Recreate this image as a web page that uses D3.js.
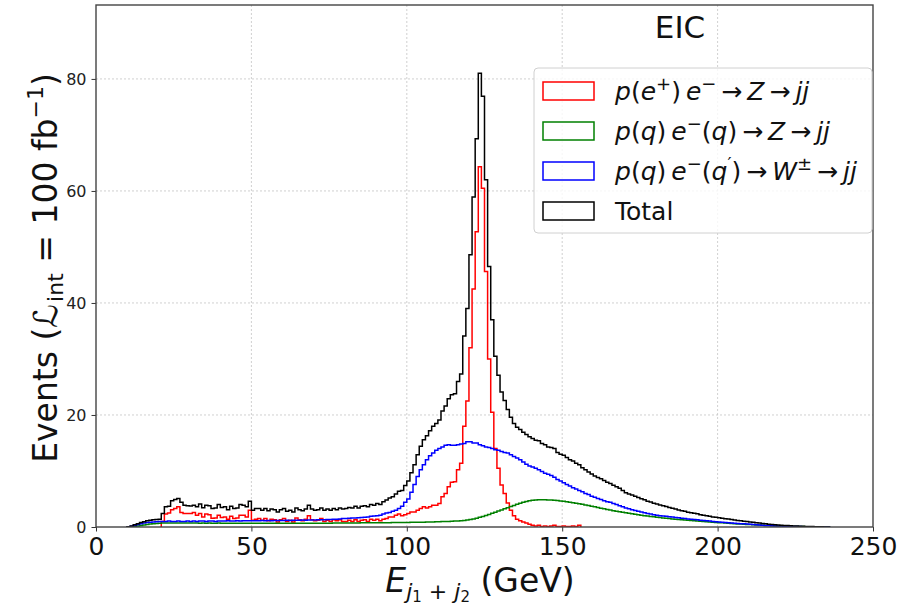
<!DOCTYPE html>
<html>
<head>
<meta charset="utf-8">
<script src="https://cdn.jsdelivr.net/npm/d3@7"></script>
<style>
  body { margin: 0; background: #fff; }
  svg { display: block; font-family: "DejaVu Sans", sans-serif; }
</style>
</head>
<body>
<svg id="chart" width="917" height="609"></svg>
<script>
// histogram binning (GeV)
var binStart = 10;
var binWidth = 1;

var xTicks = [0, 50, 100, 150, 200, 250];
var yTicks = [0, 20, 40, 60, 80];

// p(e+) e- -> Z -> jj   (bins from 10 GeV)
var zPhoton = [
  0, 0, 0, 0, 0, 0, 0, 0, 0, 0,
  0, 1.0, 2.3, 2.5, 3.1, 3.3, 3.6, 2.6, 2.4, 2.4,
  2.4, 2.6, 2.1, 2.4, 1.8, 2.3, 2.2, 1.55, 1.6, 2.1,
  1.7, 1.8, 1.4, 1.9, 1.5, 1.6, 2.1, 2.1, 1.8, 3.0,
  1.2, 1.4, 1.5, 1.2, 1.5, 1.1, 1.4, 1.3, 0.9, 1.3,
  1.5, 1.0, 1.2, 0.9, 1.6, 1.3, 1.1, 1.4, 2.0, 1.3,
  1.1, 1.2, 1.5, 1.0, 1.2, 1.0, 1.3, 1.1, 1.3, 1.0,
  1.0, 1.2, 1.0, 1.3, 1.0, 1.2, 1.3, 1.0, 1.4, 1.2,
  1.4, 1.1, 1.4, 1.5, 1.8, 1.8, 2.1, 2.3, 2.0, 2.2,
  2.4, 2.7, 2.7, 3.0, 3.3, 3.6, 3.4, 3.6, 3.9, 3.9,
  4.2, 5.4, 6.0, 7.2, 8.0, 8.1, 10.2, 11.4, 18.0, 22.5,
  32.0, 42.5, 52.7, 64.3, 60.5, 45.6, 30.0, 20.5, 14.0, 10.5,
  7.5, 6.0, 4.3, 3.0, 2.0, 1.4, 1.1, 0.9, 0.7, 0.5,
  0.3, 0.2, 0.3, 0.1, 0.2, 0.1, 0.2, 0.3, 0.1, 0.1,
  0.2, 0.1, 0.1, 0.2, 0.1, 0.3
];

// p(q) e-(q) -> Z -> jj
var zQuark = [
  0.02, 0.05, 0.1, 0.18, 0.27, 0.36, 0.45, 0.52, 0.58, 0.63,
  0.67, 0.7, 0.7, 0.72, 0.7, 0.72, 0.7, 0.7, 0.72, 0.7,
  0.7, 0.7, 0.7, 0.68, 0.7, 0.68, 0.7, 0.68, 0.68, 0.7,
  0.68, 0.66, 0.68, 0.66, 0.68, 0.66, 0.66, 0.68, 0.66, 0.66,
  0.66, 0.65, 0.66, 0.65, 0.65, 0.66, 0.65, 0.65, 0.66, 0.65,
  0.65, 0.66, 0.65, 0.66, 0.66, 0.66, 0.67, 0.66, 0.67, 0.67,
  0.67, 0.68, 0.68, 0.68, 0.69, 0.69, 0.7, 0.7, 0.7, 0.71,
  0.71, 0.72, 0.72, 0.73, 0.73, 0.74, 0.74, 0.75, 0.75, 0.76,
  0.76, 0.77, 0.77, 0.78, 0.78, 0.79, 0.8, 0.8, 0.81, 0.82,
  0.82, 0.83, 0.84, 0.85, 0.86, 0.87, 0.88, 0.89, 0.9, 0.92,
  0.94, 0.96, 0.98, 1.0, 1.02, 1.05, 1.08, 1.12, 1.18, 1.25,
  1.35, 1.45, 1.58, 1.72, 1.88, 2.05, 2.25, 2.45, 2.65, 2.85,
  3.05, 3.25, 3.45, 3.65, 3.85, 4.05, 4.25, 4.4, 4.55, 4.7,
  4.78, 4.83, 4.86, 4.87, 4.86, 4.84, 4.8, 4.76, 4.72, 4.66,
  4.6, 4.52, 4.44, 4.35, 4.26, 4.16, 4.06, 3.95, 3.84, 3.72,
  3.6, 3.48, 3.36, 3.25, 3.14, 3.03, 2.92, 2.82, 2.72, 2.62,
  2.53, 2.44, 2.35, 2.26, 2.18, 2.1, 2.02, 1.95, 1.88, 1.81,
  1.74, 1.68, 1.62, 1.56, 1.5, 1.45, 1.4, 1.35, 1.3, 1.25,
  1.2, 1.15, 1.1, 1.06, 1.02, 0.98, 0.94, 0.9, 0.86, 0.82,
  0.78, 0.74, 0.7, 0.66, 0.62, 0.58, 0.55, 0.52, 0.49, 0.46,
  0.43, 0.4, 0.37, 0.34, 0.31, 0.28, 0.25, 0.23, 0.21, 0.19,
  0.17, 0.15, 0.13, 0.11, 0.1, 0.09, 0.08, 0.07, 0.06, 0.05,
  0.04, 0.03, 0.02, 0.02, 0.01, 0.01
];

// p(q) e-(q') -> W -> jj
var wQuark = [
  0.05, 0.15, 0.3, 0.45, 0.6, 0.7, 0.8, 0.85, 0.9, 0.95,
  1.0, 1.0, 1.0, 1.05, 1.0, 1.0, 1.05, 1.0, 1.0, 1.05,
  1.0, 1.05, 1.0, 1.05, 1.05, 1.0, 1.05, 1.05, 1.0, 1.05,
  1.05, 1.05, 1.1, 1.05, 1.05, 1.1, 1.05, 1.1, 1.1, 1.1,
  1.1, 1.1, 1.1, 1.15, 1.1, 1.15, 1.1, 1.15, 1.15, 1.15,
  1.15, 1.2, 1.15, 1.2, 1.2, 1.2, 1.25, 1.2, 1.25, 1.25,
  1.25, 1.3, 1.3, 1.3, 1.35, 1.35, 1.4, 1.4, 1.45, 1.5,
  1.5, 1.55, 1.6, 1.6, 1.65, 1.7, 1.75, 1.8, 1.9, 1.95,
  2.0, 2.1, 2.3, 2.5, 2.6, 2.8, 3.0, 3.3, 3.7, 4.4,
  5.0, 6.2, 7.6, 9.0, 10.2, 11.1, 12.0, 12.7, 13.2, 13.7,
  14.0, 14.3, 14.6, 14.7, 14.6, 14.6, 14.7, 14.8, 14.9, 15.2,
  15.2, 15.0, 15.0, 14.7, 14.5, 14.3, 14.2, 14.0, 13.8, 13.7,
  13.5, 13.3, 13.2, 12.9, 12.6, 12.3, 12.0, 11.6, 11.2, 10.9,
  10.7, 10.5, 10.2, 9.9, 9.6, 9.4, 9.2, 8.9, 8.5, 8.2,
  7.9, 7.6, 7.3, 7.0, 6.8, 6.5, 6.3, 6.0, 5.8, 5.5,
  5.3, 5.1, 4.9, 4.7, 4.5, 4.4, 4.2, 4.0, 3.8, 3.6,
  3.4, 3.25, 3.1, 2.95, 2.8, 2.7, 2.55, 2.4, 2.3, 2.2,
  2.1, 2.0, 1.95, 1.9, 1.85, 1.8, 1.7, 1.65, 1.55, 1.5,
  1.45, 1.4, 1.35, 1.3, 1.2, 1.15, 1.1, 1.05, 1.0, 0.95,
  0.9, 0.85, 0.8, 0.76, 0.72, 0.68, 0.64, 0.6, 0.56, 0.52,
  0.48, 0.44, 0.4, 0.36, 0.32, 0.29, 0.26, 0.23, 0.2, 0.18,
  0.16, 0.14, 0.12, 0.1, 0.09, 0.08, 0.07, 0.06, 0.05, 0.04,
  0.03, 0.03, 0.02, 0.02, 0.01, 0.01
];

// Total
var total = [
  0.05, 0.2, 0.4, 0.6, 0.8, 0.95, 1.1, 1.2, 1.3, 1.35,
  1.4, 2.4, 3.6, 3.7, 4.7, 4.9, 5.1, 4.4, 3.9, 3.8,
  3.75, 3.9, 3.6, 4.1, 3.45, 3.9, 3.8, 3.3, 3.4, 4.0,
  3.5, 3.6, 3.1, 3.7, 3.3, 3.4, 4.0, 3.9, 3.6, 4.6,
  3.0, 3.3, 3.3, 3.0, 3.3, 2.9, 3.2, 3.1, 2.7, 3.1,
  3.3, 2.8, 3.0, 2.7, 3.4, 3.1, 2.9, 3.2, 3.9, 3.2,
  3.0, 3.1, 3.4, 3.0, 3.2, 3.0, 3.3, 3.1, 3.4, 3.2,
  3.3, 3.5, 3.4, 3.7, 3.4, 3.7, 3.8, 3.6, 4.0, 3.9,
  4.2, 4.0, 4.5, 4.8, 5.2, 5.4, 5.9, 6.4, 6.5, 7.4,
  8.2, 9.7, 11.1, 12.9, 14.4, 15.6, 16.3, 17.2, 18.0, 18.5,
  19.1, 20.7, 21.6, 22.9, 23.6, 23.8, 26.0, 27.3, 34.1, 39.0,
  48.6, 58.9, 69.3, 81.0, 76.9, 62.0, 46.5, 37.0, 30.5, 27.1,
  24.1, 22.6, 21.0, 19.6, 18.5, 17.8, 17.4, 16.9, 16.5, 16.1,
  15.8, 15.5, 15.4, 14.9, 14.7, 14.3, 14.2, 14.0, 13.3, 13.0,
  12.8, 12.4, 12.0, 11.8, 11.4, 11.1, 10.6, 10.2, 9.8, 9.45,
  9.1, 8.85, 8.6, 8.3, 8.0, 7.75, 7.45, 7.2, 6.9, 6.5,
  6.1, 5.9, 5.7, 5.5, 5.25, 5.05, 4.85, 4.6, 4.45, 4.25,
  4.1, 3.95, 3.8, 3.65, 3.5, 3.35, 3.2, 3.05, 2.9, 2.8,
  2.65, 2.55, 2.45, 2.35, 2.2, 2.1, 2.0, 1.9, 1.8, 1.72,
  1.65, 1.57, 1.49, 1.41, 1.33, 1.25, 1.17, 1.1, 1.03, 0.96,
  0.9, 0.84, 0.77, 0.7, 0.63, 0.57, 0.51, 0.46, 0.41, 0.37,
  0.33, 0.29, 0.25, 0.21, 0.19, 0.17, 0.15, 0.13, 0.11, 0.09,
  0.07, 0.06, 0.04, 0.04, 0.02, 0.02
];

var seriesColors = ["#ff0000", "#008000", "#0000ff", "#000000"];

// legend labels as math pieces: i = italic, sup = superscript
var legendLabels = [
  [{t: "p", i: 1}, {t: "("}, {t: "e", i: 1}, {t: "+", sup: 1}, {t: ")\u2009"}, {t: "e", i: 1}, {t: "\u2212", sup: 1},
   {t: "\u2009\u2192\u2009"}, {t: "Z", i: 1}, {t: "\u2009\u2192\u2009"}, {t: "jj", i: 1}],
  [{t: "p", i: 1}, {t: "("}, {t: "q", i: 1}, {t: ")\u2009"}, {t: "e", i: 1}, {t: "\u2212", sup: 1}, {t: "("},
   {t: "q", i: 1}, {t: ")\u2009\u2192\u2009"}, {t: "Z", i: 1}, {t: "\u2009\u2192\u2009"}, {t: "jj", i: 1}],
  [{t: "p", i: 1}, {t: "("}, {t: "q", i: 1}, {t: ")\u2009"}, {t: "e", i: 1}, {t: "\u2212", sup: 1}, {t: "("},
   {t: "q", i: 1}, {t: "\u2032", sup: 1}, {t: ")\u2009\u2192\u2009"}, {t: "W", i: 1}, {t: "\u00b1", sup: 1},
   {t: "\u2009\u2192\u2009"}, {t: "jj", i: 1}],
  [{t: "Total"}]
];

var PLOT = {left: 96, right: 873, top: 5, bottom: 527};
var Y_MAX = 93.2;

var svg = d3.select("#chart");

var x = d3.scaleLinear().domain([0, 250]).range([PLOT.left, PLOT.right]);
var y = d3.scaleLinear().domain([0, Y_MAX]).range([PLOT.bottom, PLOT.top]);

// grid
var grid = svg.append("g").attr("class", "grid");
grid.selectAll("line.gx")
  .data(xTicks.slice(1, -1))
  .enter().append("line")
  .attr("x1", function(d) { return x(d); })
  .attr("x2", function(d) { return x(d); })
  .attr("y1", PLOT.top)
  .attr("y2", PLOT.bottom);
grid.selectAll("line.gy")
  .data(yTicks.slice(1))
  .enter().append("line")
  .attr("x1", PLOT.left)
  .attr("x2", PLOT.right)
  .attr("y1", function(d) { return y(d); })
  .attr("y2", function(d) { return y(d); });
grid.selectAll("line")
  .attr("stroke", "#c4c4c4")
  .attr("stroke-width", 0.8)
  .attr("stroke-dasharray", "2,2");

svg.append("clipPath").attr("id", "plotclip")
  .append("rect")
  .attr("x", PLOT.left).attr("y", PLOT.top)
  .attr("width", PLOT.right - PLOT.left)
  .attr("height", PLOT.bottom - PLOT.top);

// step outline, like a matplotlib histtype='step'
function stepPoints(values) {
  var first = 0, last = values.length - 1;
  while (first < last && values[first] === 0) first++;
  while (last > first && values[last] === 0) last--;
  var pts = [[binStart + first * binWidth, 0]];
  for (var i = first; i <= last; i++) {
    pts.push([binStart + i * binWidth, values[i]]);
  }
  var end = binStart + (last + 1) * binWidth;
  pts.push([end, values[last]]);
  pts.push([end, 0]);
  return pts;
}

var stepLine = d3.line()
  .x(function(d) { return x(d[0]); })
  .y(function(d) { return y(d[1]); })
  .curve(d3.curveStepAfter);

var allSeries = [zPhoton, zQuark, wQuark, total];

svg.append("g")
  .attr("clip-path", "url(#plotclip)")
  .selectAll("path")
  .data(allSeries)
  .enter().append("path")
  .attr("d", function(d) { return stepLine(stepPoints(d)); })
  .attr("fill", "none")
  .attr("stroke", function(d, i) { return seriesColors[i]; })
  .attr("stroke-width", 1.5)
  .attr("stroke-linejoin", "miter");

// axes
var xAxis = svg.append("g")
  .attr("transform", "translate(0," + PLOT.bottom + ")")
  .call(d3.axisBottom(x).tickValues(xTicks).tickSize(4.5).tickPadding(6));
xAxis.select(".domain").remove();
xAxis.selectAll("line").attr("stroke", "#333").attr("stroke-width", 1);
xAxis.selectAll("text")
  .attr("font-family", "DejaVu Sans")
  .attr("font-size", 25)
  .attr("fill", "#111");

var yAxis = svg.append("g")
  .attr("transform", "translate(" + PLOT.left + ",0)")
  .call(d3.axisLeft(y).tickValues(yTicks).tickSize(4.5).tickPadding(5));
yAxis.select(".domain").remove();
yAxis.selectAll("line").attr("stroke", "#333").attr("stroke-width", 1);
yAxis.selectAll("text")
  .attr("font-family", "DejaVu Sans")
  .attr("font-size", 16)
  .attr("fill", "#222");

// frame
svg.append("rect")
  .attr("x", PLOT.left).attr("y", PLOT.top)
  .attr("width", PLOT.right - PLOT.left)
  .attr("height", PLOT.bottom - PLOT.top)
  .attr("fill", "none")
  .attr("stroke", "#444")
  .attr("stroke-width", 1.4);

// EIC tag
svg.append("text")
  .attr("x", 680).attr("y", 38)
  .attr("text-anchor", "middle")
  .attr("font-size", 31)
  .attr("fill", "#111")
  .text("EIC");

function addMath(textSel, pieces, size) {
  var shift = 0;
  pieces.forEach(function(p) {
    var ts = textSel.append("tspan").text(p.t);
    if (p.i) ts.attr("font-style", "italic");
    var target = p.sup ? -0.42 * size : 0;
    if (p.sup) ts.attr("font-size", Math.round(size * 0.7));
    if (target !== shift) ts.attr("dy", target - shift);
    shift = target;
  });
}

// legend
var legend = svg.append("g").attr("class", "legend");
legend.append("rect")
  .attr("x", 534).attr("y", 68)
  .attr("width", 338).attr("height", 165)
  .attr("rx", 4)
  .attr("fill", "#fff")
  .attr("fill-opacity", 0.8)
  .attr("stroke", "#d0d0d0")
  .attr("stroke-width", 1);

legend.selectAll("g.entry")
  .data(legendLabels)
  .enter().append("g")
  .attr("class", "entry")
  .attr("transform", function(d, i) { return "translate(543," + (91 + i * 40) + ")"; })
  .each(function(pieces, i) {
    var g = d3.select(this);
    g.append("rect")
      .attr("x", 0).attr("y", -9)
      .attr("width", 51).attr("height", 18)
      .attr("fill", "none")
      .attr("stroke", seriesColors[i])
      .attr("stroke-width", 1.5);
    var t = g.append("text")
      .attr("x", 72).attr("y", 9)
      .attr("font-size", 25)
      .attr("fill", "#111");
    addMath(t, pieces, 25);
  });

// axis labels
var xl = svg.append("text")
  .attr("x", 480).attr("y", 592)
  .attr("text-anchor", "middle")
  .attr("font-size", 33)
  .attr("fill", "#111");
xl.append("tspan").attr("font-style", "italic").text("E");
xl.append("tspan").attr("font-size", 22).attr("dy", 7).attr("font-style", "italic").text("j");
xl.append("tspan").attr("font-size", 15).attr("dy", 3).text("1");
xl.append("tspan").attr("font-size", 22).attr("dy", -3).text(" + ");
xl.append("tspan").attr("font-size", 22).attr("font-style", "italic").text("j");
xl.append("tspan").attr("font-size", 15).attr("dy", 3).text("2");
xl.append("tspan").attr("dy", -10).text(" (GeV)");

var yl = svg.append("text")
  .attr("transform", "translate(57,268) rotate(-90)")
  .attr("text-anchor", "middle")
  .attr("font-size", 33)
  .attr("fill", "#111");
yl.append("tspan").text("Events (");
yl.append("tspan").attr("font-style", "italic").text("\u2112");
yl.append("tspan").attr("font-size", 22).attr("dx", 2).attr("dy", 6).text("int");
yl.append("tspan").attr("dy", -6).text(" = 100 fb");
yl.append("tspan").attr("font-size", 22).attr("dy", -14).text("\u22121");
yl.append("tspan").attr("dy", 14).text(")");
</script>
</body>
</html>
